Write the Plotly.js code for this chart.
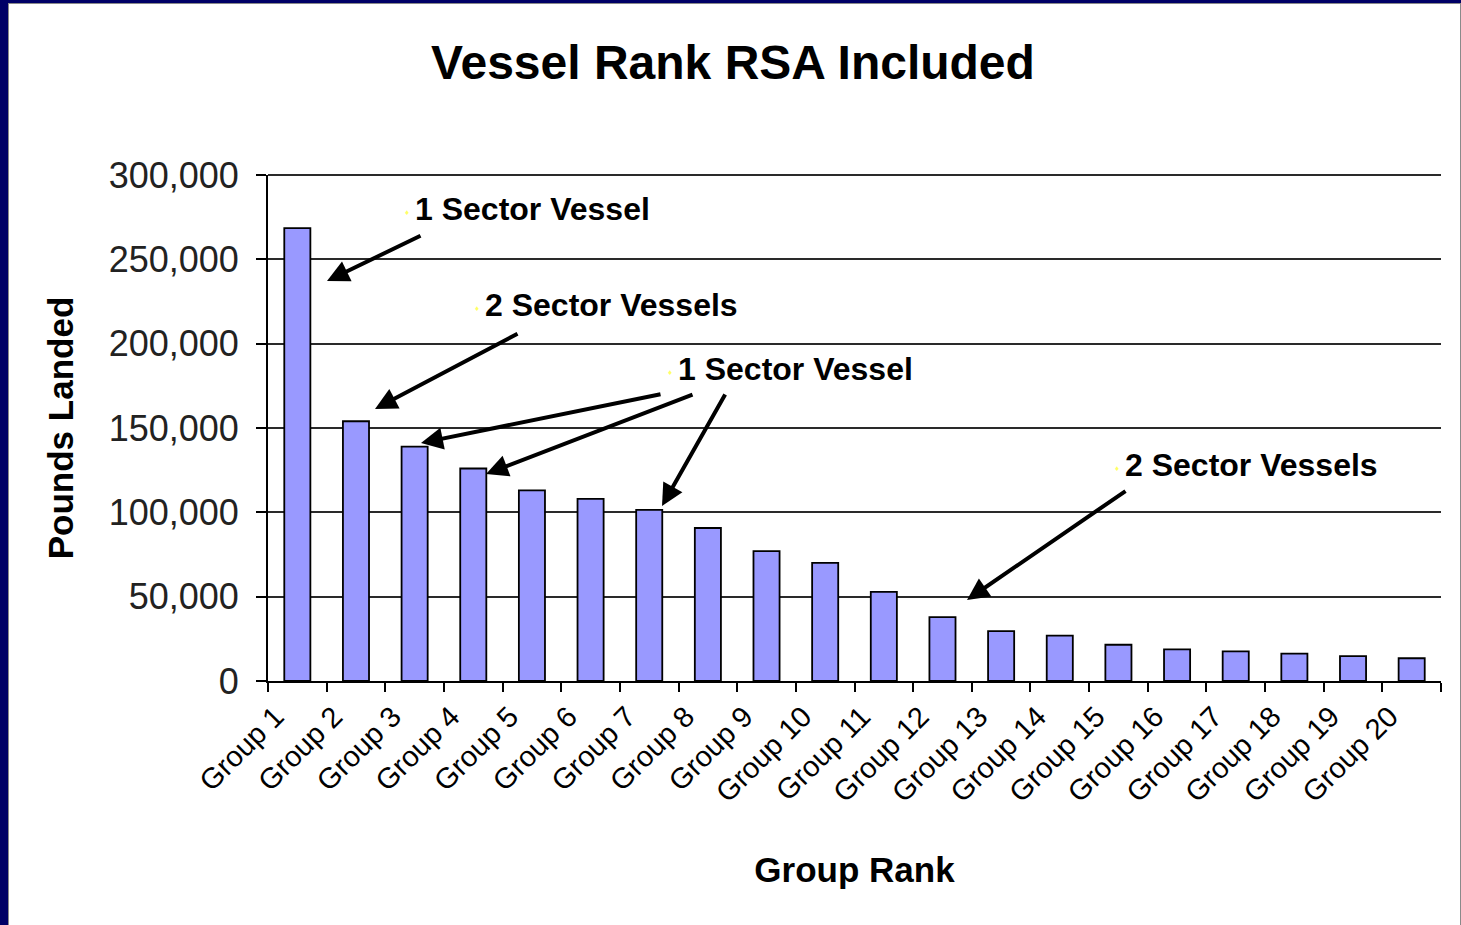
<!DOCTYPE html>
<html>
<head>
<meta charset="utf-8">
<script src="https://cdn.plot.ly/plotly-3.0.1.min.js"></script>
<style>
html,body{margin:0;padding:0;background:#fff;overflow:hidden;}
#chart{position:absolute;left:0;top:0;width:1461px;height:925px;}
.frame{position:absolute;pointer-events:none;}
</style>
</head>
<body>
<div id="chart"></div>
<div class="frame" style="left:0;top:0;width:1461px;height:3px;background:#000066;"></div>
<div class="frame" style="left:0;top:0;width:8px;height:925px;background:#000066;"></div>
<div class="frame" style="left:8px;top:3px;width:1px;height:922px;background:#8a8a8a;"></div>
<div class="frame" style="left:8px;top:3px;width:1453px;height:1px;background:#8a8a8a;"></div>
<div class="frame" style="left:1460px;top:3px;width:1px;height:922px;background:#8a8a8a;"></div>
<script>
// ---- data ----
const groups = ["Group 1","Group 2","Group 3","Group 4","Group 5","Group 6","Group 7","Group 8","Group 9","Group 10",
                "Group 11","Group 12","Group 13","Group 14","Group 15","Group 16","Group 17","Group 18","Group 19","Group 20"];
const poundsLanded = [268500,154000,139000,126000,113000,108000,101400,90700,77000,70000,
                      52800,37900,29600,26900,21500,18800,17600,16200,14800,13500];
const calloutTexts = ["1 Sector Vessel","2 Sector Vessels","1 Sector Vessel","2 Sector Vessels"];

// ---- layout geometry (pixels) ----
const W = 1461, H = 925;
const L = 268, R = 1441, T = 175, B = 681;
const px = x => (x - L) / (R - L);
const py = y => (B - y) / (B - T);

const font = "Arial, 'Liberation Sans', sans-serif";

// text labels: [text, left x px, center y px]
const labelPos = [[calloutTexts[0], 413, 209], [calloutTexts[1], 483, 305], [calloutTexts[2], 676, 369], [calloutTexts[3], 1123, 465]];
// arrows: [tailx, taily, headx, heady]
const arrows = [
  [422, 235, 327, 281],
  [519, 333, 375, 409],
  [662, 394, 421, 443],
  [694, 394, 486, 474],
  [726, 393, 662, 506],
  [1127, 490, 967, 600]
];

const annotations = [];
labelPos.forEach(([t, x, y]) => {
  annotations.push({xref:'paper', yref:'paper', x:px(x), y:py(y), xanchor:'left', yanchor:'middle',
    text:'<b>'+t+'</b>', showarrow:false, font:{family:font, size:32, color:'#000'}});
  annotations.push({xref:'paper', yref:'paper', x:px(x-6), y:py(y+3), xanchor:'center', yanchor:'middle',
    text:'♦', showarrow:false, font:{family:font, size:8, color:'#ffff66'}});
});
arrows.forEach(([tx, ty, hx, hy]) => {
  annotations.push({xref:'paper', yref:'paper', x:px(hx), y:py(hy), ax:tx-hx, ay:ty-hy,
    text:'', showarrow:true, arrowhead:2, arrowsize:1.1, arrowwidth:4, arrowcolor:'#000', standoff:0, startstandoff:0});
});

const trace = {
  type:'bar', x:groups, y:poundsLanded,
  marker:{color:'#9999ff', line:{color:'#000', width:1.8}},
  hoverinfo:'x+y'
};

const layout = {
  width:W, height:H,
  paper_bgcolor:'#ffffff', plot_bgcolor:'#ffffff',
  margin:{l:L, r:W-R, t:T, b:H-B, pad:0},
  bargap:0.555,
  showlegend:false,
  title:{text:'<b>Vessel Rank RSA Included</b>', font:{family:font, size:48, color:'#000'},
         x:(733)/W, xanchor:'center', y:1-62/H, yanchor:'middle'},
  xaxis:{
    type:'category', tickson:'boundaries', ticks:'outside', ticklen:9, tickwidth:2, tickcolor:'#000',
    showline:true, linecolor:'#000', linewidth:2, showgrid:false,
    tickangle:-45, tickfont:{family:font, size:29, color:'#000'},
    ticklabelstandoff:5, ticklabelshift:-22,
    title:{text:'<b>Group Rank</b>', font:{family:font, size:35, color:'#000'}, standoff:50},
    automargin:false
  },
  yaxis:{
    range:[0,300000], dtick:50000, tickformat:',d',
    ticks:'outside', ticklen:10, tickwidth:2, tickcolor:'#000',
    showline:true, linecolor:'#000', linewidth:2,
    showgrid:true, gridcolor:'#2a2a2a', gridwidth:2, zeroline:false,
    tickfont:{family:font, size:36, color:'#222'},
    ticklabelstandoff:10,
    title:{text:'<b>Pounds Landed</b>', font:{family:font, size:35, color:'#000'}, standoff:24},
    automargin:false
  },
  shapes:[{type:'line', xref:'paper', yref:'paper', x0:0, x1:1, y0:1, y1:1, line:{color:'#2a2a2a', width:2}}],
  annotations:annotations
};

Plotly.newPlot('chart', [trace], layout, {displayModeBar:false, staticPlot:true});
</script>
</body>
</html>
